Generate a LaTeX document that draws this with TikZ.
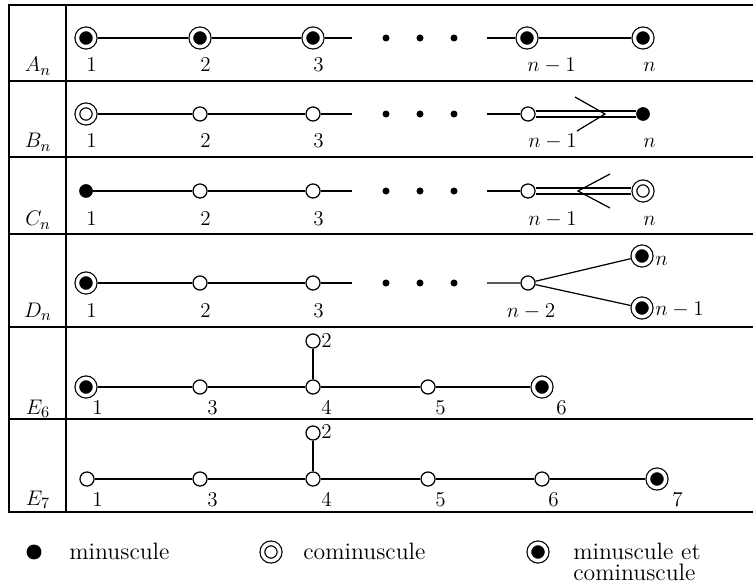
\documentclass[tikz,border=0pt]{standalone}
\usepackage{amsmath}
\usepackage{tikz}
\tikzset{
  wn/.style={circle,draw,fill=white,line width=.7pt,inner sep=0pt,minimum size=8pt},
  mn/.style={circle,fill=black,inner sep=0pt,minimum size=7.8pt},
  cmn/.style={circle,draw,double,double distance=2pt,line width=.7pt,fill=white,inner sep=0pt,minimum size=9.8pt,outer sep=1.7pt},
  mcmn/.style={cmn,fill=black},
  dotn/.style={circle,fill=black,inner sep=0pt,minimum size=4pt},
  num/.style={inner sep=0pt,anchor=base west},
  rowname/.style={inner sep=0pt,anchor=base},
  legtext/.style={inner sep=0pt,anchor=base west,font=\fontsize{13.5}{12}\selectfont},
  frame/.style={line width=.9pt},
  bond/.style={line width=.7pt},
  dbond/.style={line width=.7pt,double,double distance=2.6pt},
}

\begin{document}
\begin{tikzpicture}[x=0.02cm,y=-0.02cm,font=\fontsize{12.5}{14}\selectfont]
		\useasboundingbox (0,0) rectangle (753,587);
		% table
		\draw[frame] (753,5) -- (9,5) -- (9,512) -- (753,512);
		\draw[frame] (66,5) -- (66,512);
		\draw[frame] (9,81) -- (753,81);
		\draw[frame] (9,157) -- (753,157);
		\draw[frame] (9,234) -- (753,234);
		\draw[frame] (9,327) -- (753,327);
		\draw[frame] (9,419) -- (753,419);
		% A_n
		\node[rowname] (la) at (38,72) {$A_n$};
		\node[mcmn] (a1) at (86,38) {};
		\node[mcmn] (a2) at (200,38) {};
		\node[mcmn] (a3) at (313,38) {};
		\node[mcmn] (a4) at (527,38) {};
		\node[mcmn] (a5) at (643,38) {};
		\coordinate (ae) at (352,38);
		\coordinate (as) at (487,38);
		\draw[bond] (a1) -- (a2) -- (a3) -- (ae);
		\draw[bond] (as) -- (a4) -- (a5);
		\path (386,38) node[dotn] (ad1) {} (420,38) node[dotn] (ad2) {} (454,38) node[dotn] (ad3) {};
		\node[num] (a1l) at (86,72) {$1$};
		\node[num] (a2l) at (200,72) {$2$};
		\node[num] (a3l) at (313,72) {$3$};
		\node[num] (a4l) at (527,72) {$n-1$};
		\node[num] (a5l) at (643,72) {$n$};
		% B_n
		\node[rowname] (lb) at (38,148) {$B_n$};
		\node[cmn] (b1) at (86,114) {};
		\node[wn] (b2) at (200,114) {};
		\node[wn] (b3) at (313,114) {};
		\node[wn] (b4) at (528,114) {};
		\node[mn] (b5) at (643,114) {};
		\coordinate (be) at (352,114);
		\coordinate (bs) at (487,114);
		\draw[bond] (b1) -- (b2) -- (b3) -- (be);
		\draw[bond] (bs) -- (b4);
		\draw[dbond] (b4) -- (b5);
		\coordinate (bt) at (605,114);
		\draw[bond] (575,97) -- (bt) -- (577,131);
		\path (386,114) node[dotn] (bd1) {} (420,114) node[dotn] (bd2) {} (454,114) node[dotn] (bd3) {};
		\node[num] (b1l) at (86,148) {$1$};
		\node[num] (b2l) at (200,148) {$2$};
		\node[num] (b3l) at (313,148) {$3$};
		\node[num] (b4l) at (528,148) {$n-1$};
		\node[num] (b5l) at (643,148) {$n$};
		% C_n
		\node[rowname] (lc) at (38,226) {$C_n$};
		\node[mn] (c1) at (86,191) {};
		\node[wn] (c2) at (200,191) {};
		\node[wn] (c3) at (313,191) {};
		\node[wn] (c4) at (528,191) {};
		\node[cmn] (c5) at (643,191) {};
		\coordinate (ce) at (352,191);
		\coordinate (cs) at (487,191);
		\draw[bond] (c1) -- (c2) -- (c3) -- (ce);
		\draw[bond] (cs) -- (c4);
		\draw[dbond] (c4) -- (c5);
		\coordinate (ct) at (578,191);
		\draw[bond] (610,174) -- (ct) -- (610,208);
		\path (386,191) node[dotn] (cd1) {} (420,191) node[dotn] (cd2) {} (454,191) node[dotn] (cd3) {};
		\node[num] (c1l) at (86,226) {$1$};
		\node[num] (c2l) at (200,226) {$2$};
		\node[num] (c3l) at (313,226) {$3$};
		\node[num] (c4l) at (528,226) {$n-1$};
		\node[num] (c5l) at (643,226) {$n$};
		% D_n
		\node[rowname] (ld) at (38,317) {$D_n$};
		\node[mcmn] (d1) at (86,283) {};
		\node[wn] (d2) at (200,283) {};
		\node[wn] (d3) at (313,283) {};
		\node[wn] (d4) at (528,283) {};
		\node[mcmn] (d5) at (642,256) {};
		\node[mcmn] (d6) at (642,308) {};
		\coordinate (de) at (352,283);
		\coordinate (ds) at (487,283);
		\draw[bond] (d1) -- (d2) -- (d3) -- (de);
		\draw[bond] (ds) -- (d4) -- (d5);
		\draw[bond] (d4) -- (d6);
		\path (386,283) node[dotn] (dd1) {} (420,283) node[dotn] (dd2) {} (454,283) node[dotn] (dd3) {};
		\node[num] (d1l) at (86,317) {$1$};
		\node[num] (d2l) at (200,317) {$2$};
		\node[num] (d3l) at (313,317) {$3$};
		\node[inner sep=0pt,anchor=base] (d4l) at (531,317) {$n-2$};
		\node[num] (d5l) at (655,266) {$n$};
		\node[num] (d6l) at (655,316) {$n-1$};
		% E_6
		\node[rowname] (le6) at (38,414) {$E_6$};
		\node[mcmn] (e1) at (86,387) {};
		\node[wn] (e3) at (200,387) {};
		\node[wn] (e4) at (313,387) {};
		\node[wn] (e5) at (428,387) {};
		\node[mcmn] (e6) at (542,387) {};
		\node[wn] (e2) at (313,341) {};
		\draw[bond] (e1) -- (e3) -- (e4) -- (e5) -- (e6);
		\draw[bond] (e4) -- (e2);
		\node[num] (e1l) at (92,414) {$1$};
		\node[num] (e3l) at (207,414) {$3$};
		\node[num] (e4l) at (321,414) {$4$};
		\node[num] (e5l) at (435,414) {$5$};
		\node[num] (e6l) at (556,414) {$6$};
		\node[num] (e2l) at (321,347) {$2$};
		% E_7
		\node[rowname] (le7) at (38,505) {$E_7$};
		\node[wn] (f1) at (87,479) {};
		\node[wn] (f3) at (200,479) {};
		\node[wn] (f4) at (313,479) {};
		\node[wn] (f5) at (428,479) {};
		\node[wn] (f6) at (542,479) {};
		\node[mcmn] (f7) at (657,479) {};
		\node[wn] (f2) at (313,433) {};
		\draw[bond] (f1) -- (f3) -- (f4) -- (f5) -- (f6) -- (f7);
		\draw[bond] (f4) -- (f2);
		\node[num] (f1l) at (92,506) {$1$};
		\node[num] (f3l) at (207,506) {$3$};
		\node[num] (f4l) at (321,506) {$4$};
		\node[num] (f5l) at (435,506) {$5$};
		\node[num] (f6l) at (548,506) {$6$};
		\node[num] (f7l) at (672,506) {$7$};
		\node[num] (f2l) at (321,438) {$2$};
		% legend
		\node[mn,minimum size=8.5pt] (kmn) at (34,552) {};
		\node[legtext] (kmnt) at (69,559) {minuscule};
		\node[cmn] (kcmn) at (271,552) {};
		\node[legtext] (kcmnt) at (303,559) {cominuscule};
		\node[mcmn] (kboth) at (538,552) {};
		\node[legtext,anchor=north west,align=left] (kbotht) at (573,542.5) {minuscule et\\cominuscule};
	\end{tikzpicture}
\end{document}
